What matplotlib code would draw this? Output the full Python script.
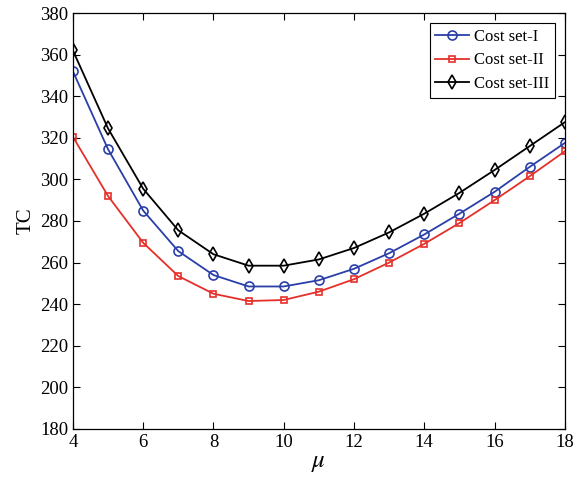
import numpy as np
import matplotlib
matplotlib.use('Agg')
from matplotlib import pyplot as plt

mu = [4, 5, 6, 7, 8, 9, 10, 11, 12, 13, 14, 15, 16, 17, 18]
tc_set1 = [352, 314.5, 285, 265.5, 254, 248.5, 248.5, 251.5, 257, 264.5, 273.5, 283.5, 294, 306, 317.5]
tc_set2 = [320.5, 292, 269.5, 253.5, 245, 241.5, 242, 246, 252, 260, 269, 279, 290, 301.5, 313.5]
tc_set3 = [362, 324.5, 295.5, 275.5, 264, 258.5, 258.5, 261.5, 267, 274.5, 283.5, 293.5, 304.5, 316, 327.5]

plt.rcParams['font.family'] = ['Liberation Serif', 'DejaVu Serif']
plt.rcParams['mathtext.fontset'] = 'stix'

fig = plt.figure(figsize=(5.74, 4.83), dpi=100)
ax = fig.add_axes([0.127, 0.112, 0.857, 0.861])

ax.plot(mu, tc_set1, '-o', color='#2a3fa8', lw=1.3, ms=6.5, mfc='none', mew=1.2, label='Cost set-I')
ax.plot(mu, tc_set2, '-s', color='#e5302a', lw=1.3, ms=5, mfc='none', mew=1.2, label='Cost set-II')
ax.plot(mu, tc_set3, '-d', color='black', lw=1.3, ms=7.5, mfc='none', mew=1.2, label='Cost set-III')

ax.set_xlim(4, 18)
ax.set_ylim(180, 380)
ax.set_xticks(np.arange(4, 19, 2))
ax.set_yticks(np.arange(180, 381, 20))
ax.tick_params(direction='in', top=True, right=True, labelsize=13.5, length=5, width=0.8)
for s in ax.spines.values():
    s.set_linewidth(0.9)

ax.set_xlabel(r'$\mu$', fontsize=18, labelpad=1)
ax.set_ylabel('TC', fontsize=15, labelpad=3)

leg = ax.legend(loc='upper right', fontsize=12, fancybox=False, edgecolor='black',
                framealpha=1, handlelength=2.0, borderpad=0.35, labelspacing=0.45,
                handletextpad=0.3, borderaxespad=0.6)
leg.get_frame().set_linewidth(0.8)

fig.savefig('out.png', dpi=100)
